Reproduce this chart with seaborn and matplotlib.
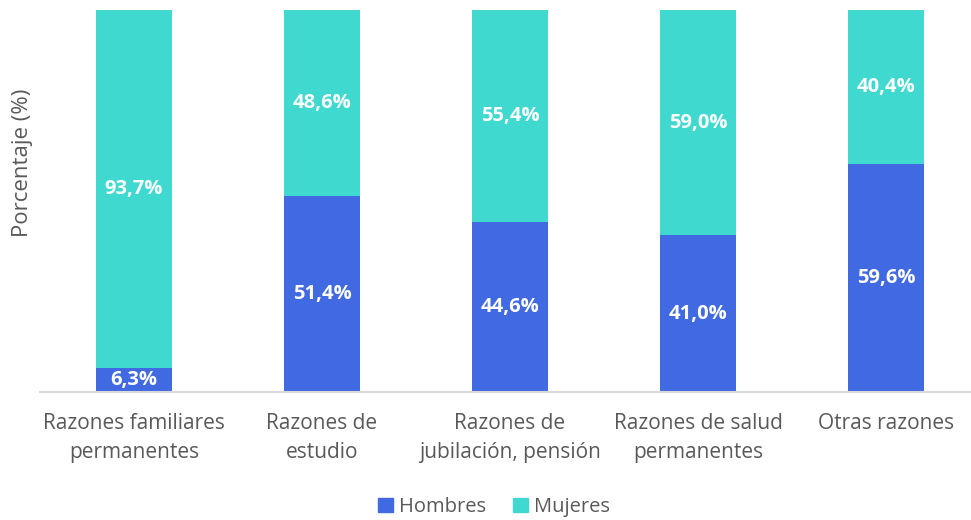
import numpy as np
import pandas as pd
import seaborn as sns
import matplotlib.pyplot as plt
from matplotlib.patches import Patch

categorias = ["Razones familiares\npermanentes", "Razones de\nestudio",
              "Razones de\njubilación, pensión", "Razones de salud\npermanentes",
              "Otras razones"]
hombres = [6.3, 51.4, 44.6, 41.0, 59.6]
mujeres = [93.7, 48.6, 55.4, 59.0, 40.4]

c_h = "#4169E1"
c_m = "#40D9D0"
gris = "#595959"

sns.set_theme(style="white")
plt.rcParams['font.family'] = ['Open Sans', 'DejaVu Sans']

df = pd.DataFrame({"cat": categorias, "h": hombres, "m": mujeres})
df["total"] = df["h"] + df["m"]

fig = plt.figure(figsize=(9.71, 5.2), dpi=100)
ax = fig.add_axes([40 / 971, 1 - 392 / 520, 931 / 971, 382 / 520])

sns.barplot(data=df, x="cat", y="total", color=c_m, width=0.404, saturation=1,
            linewidth=0, ax=ax)
sns.barplot(data=df, x="cat", y="h", color=c_h, width=0.404, saturation=1,
            linewidth=0, ax=ax)

for i, (h, m) in enumerate(zip(hombres, mujeres)):
    ax.text(i, h / 2, f"{h:.1f}%".replace(".", ","), ha="center", va="center",
            color="white", fontsize=14.5, fontweight="bold")
    ax.text(i, h + m / 2, f"{m:.1f}%".replace(".", ","), ha="center", va="center",
            color="white", fontsize=14.5, fontweight="bold")

ax.set_ylim(0, 100)
ax.set_xlim(-0.5, 4.5 - 9 / 188)
ax.set_yticks([])
ax.set_xlabel("")
ax.set_ylabel("Porcentaje (%)", fontsize=16, color=gris)
ax.yaxis.set_label_coords(-0.008, 0.6)
ax.tick_params(axis="x", length=0, labelsize=15, labelcolor=gris, pad=15)
for t in ax.get_xticklabels():
    t.set_linespacing(1.5)
for s in ["top", "right", "left"]:
    ax.spines[s].set_visible(False)
ax.spines["bottom"].set_color("#D9D9D9")
ax.spines["bottom"].set_linewidth(1.5)

handles = [Patch(color=c_h, label="Hombres"), Patch(color=c_m, label="Mujeres")]
leg = fig.legend(handles=handles, loc="center", bbox_to_anchor=(494 / 971, 1 - 507 / 520),
                 ncol=2, frameon=False, fontsize=14.5, handlelength=0.75, handleheight=0.75,
                 handletextpad=0.3, columnspacing=1.3)
for t in leg.get_texts():
    t.set_color(gris)

fig.savefig("out.png", dpi=100)
